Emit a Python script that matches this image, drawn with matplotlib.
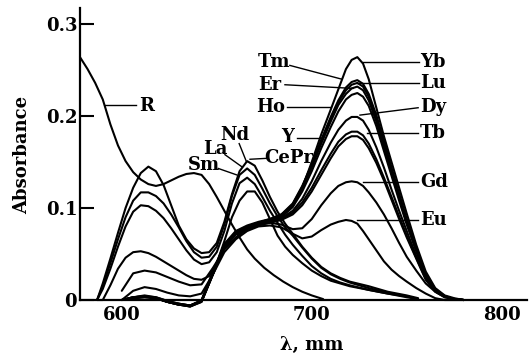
import matplotlib
matplotlib.use("Agg")
import matplotlib.pyplot as plt

plt.rcParams["font.family"] = ["DejaVu Serif"]
plt.rcParams["font.weight"] = "bold"
fontsize = 13

# reagent R
r_nm = [578, 582, 586, 590, 594, 598, 602, 606, 610, 614, 618, 622, 626, 630,
        634, 638, 642, 646, 650, 654, 658, 662, 666, 670, 675, 680, 685, 690,
        695, 700, 706]
r_abs = [0.264, 0.251, 0.236, 0.218, 0.191, 0.168, 0.151, 0.139, 0.131, 0.126,
         0.124, 0.126, 0.130, 0.134, 0.137, 0.138, 0.136, 0.126, 0.112, 0.097,
         0.082, 0.068, 0.055, 0.045, 0.035, 0.027, 0.020, 0.014, 0.009, 0.005,
         0.001]

# light lanthanides
light_nm = [587, 590, 594, 598, 602, 606, 610, 614, 618, 622, 626, 630, 634,
            638, 642, 646, 650, 654, 658, 662, 666, 670, 674, 678, 682, 686,
            690, 695, 700, 705, 710, 715, 720, 730, 740, 750, 756]
nd = [0.000, 0.018, 0.045, 0.073, 0.100, 0.122, 0.138, 0.145, 0.140, 0.125,
      0.103, 0.081, 0.066, 0.056, 0.051, 0.052, 0.062, 0.085, 0.115, 0.140,
      0.151, 0.146, 0.130, 0.112, 0.096, 0.083, 0.072, 0.058, 0.046, 0.036,
      0.029, 0.024, 0.020, 0.015, 0.009, 0.005, 0.002]
la = [0.000, 0.015, 0.040, 0.066, 0.090, 0.108, 0.117, 0.117, 0.113, 0.105,
      0.093, 0.079, 0.064, 0.052, 0.046, 0.047, 0.058, 0.082, 0.113, 0.136,
      0.143, 0.136, 0.121, 0.105, 0.091, 0.079, 0.070, 0.057, 0.045, 0.035,
      0.028, 0.023, 0.019, 0.013, 0.008, 0.004, 0.001]
sm = [0.000, 0.012, 0.034, 0.058, 0.080, 0.096, 0.103, 0.102, 0.097, 0.089,
      0.078, 0.066, 0.054, 0.044, 0.039, 0.041, 0.052, 0.075, 0.105, 0.127,
      0.133, 0.126, 0.112, 0.097, 0.084, 0.071, 0.060, 0.048, 0.037, 0.029,
      0.023, 0.019, 0.016, 0.011, 0.007, 0.003, 0.001]
cepr = [0.000, 0.000, 0.016, 0.034, 0.046, 0.052, 0.053, 0.051, 0.047, 0.042,
        0.037, 0.032, 0.027, 0.023, 0.022, 0.026, 0.040, 0.064, 0.090, 0.108,
        0.118, 0.118, 0.106, 0.088, 0.070, 0.058, 0.049, 0.040, 0.032, 0.026,
        0.021, 0.018, 0.015, 0.011, 0.007, 0.004, 0.001]

# heavy lanthanides + Y
heavy_nm = [600, 606, 612, 618, 624, 630, 636, 642, 648, 654, 660, 666, 672,
            678, 684, 690, 695, 700, 705, 710, 714, 718, 721, 724, 727, 730,
            734, 738, 742, 746, 750, 755, 760, 765, 770, 775, 780]
yb = [0.000, 0.003, 0.004, 0.002, -0.002, -0.005, -0.007, -0.002, 0.028, 0.058,
      0.072, 0.079, 0.084, 0.088, 0.093, 0.102, 0.122, 0.150, 0.180, 0.207,
      0.229, 0.251, 0.261, 0.264, 0.257, 0.240, 0.209, 0.178, 0.150, 0.122,
      0.094, 0.060, 0.031, 0.013, 0.005, 0.002, 0.000]
lu = [0.000, 0.002, 0.004, 0.003, -0.001, -0.004, -0.006, -0.001, 0.030, 0.060,
      0.074, 0.080, 0.084, 0.087, 0.092, 0.104, 0.123, 0.147, 0.174, 0.199,
      0.217, 0.231, 0.237, 0.239, 0.235, 0.224, 0.201, 0.173, 0.144, 0.116,
      0.088, 0.056, 0.028, 0.012, 0.004, 0.001, 0.000]
tm = [0.000, 0.003, 0.005, 0.003, -0.001, -0.004, -0.006, 0.000, 0.031, 0.061,
      0.075, 0.081, 0.085, 0.088, 0.093, 0.105, 0.124, 0.147, 0.173, 0.197,
      0.215, 0.228, 0.234, 0.236, 0.232, 0.221, 0.197, 0.169, 0.141, 0.113,
      0.086, 0.055, 0.027, 0.011, 0.004, 0.001, 0.000]
er = [0.000, 0.002, 0.003, 0.002, -0.002, -0.005, -0.006, -0.001, 0.029, 0.059,
      0.073, 0.080, 0.084, 0.087, 0.092, 0.104, 0.121, 0.144, 0.170, 0.194,
      0.212, 0.224, 0.230, 0.232, 0.228, 0.217, 0.194, 0.166, 0.139, 0.111,
      0.084, 0.054, 0.027, 0.011, 0.004, 0.001, 0.000]
ho = [0.000, 0.003, 0.004, 0.002, -0.002, -0.005, -0.007, -0.002, 0.028, 0.058,
      0.073, 0.079, 0.083, 0.086, 0.090, 0.101, 0.118, 0.140, 0.165, 0.188,
      0.205, 0.218, 0.223, 0.225, 0.221, 0.211, 0.189, 0.162, 0.135, 0.108,
      0.082, 0.053, 0.026, 0.011, 0.004, 0.001, 0.000]
dy = [0.000, 0.002, 0.004, 0.002, -0.002, -0.004, -0.006, -0.001, 0.029, 0.059,
      0.073, 0.079, 0.083, 0.086, 0.089, 0.097, 0.110, 0.129, 0.151, 0.171,
      0.185, 0.195, 0.199, 0.199, 0.195, 0.185, 0.166, 0.144, 0.120, 0.097,
      0.075, 0.048, 0.024, 0.010, 0.004, 0.001, 0.000]
tb = [0.000, 0.002, 0.003, 0.002, -0.002, -0.005, -0.006, -0.001, 0.029, 0.058,
      0.072, 0.078, 0.082, 0.085, 0.088, 0.095, 0.106, 0.122, 0.141, 0.159,
      0.172, 0.180, 0.183, 0.183, 0.179, 0.170, 0.153, 0.133, 0.112, 0.091,
      0.070, 0.046, 0.023, 0.010, 0.004, 0.001, 0.000]
y_ = [0.000, 0.003, 0.004, 0.002, -0.002, -0.005, -0.007, -0.001, 0.028, 0.057,
      0.071, 0.077, 0.081, 0.084, 0.087, 0.093, 0.103, 0.118, 0.136, 0.154,
      0.167, 0.175, 0.178, 0.178, 0.174, 0.165, 0.149, 0.130, 0.109, 0.088,
      0.068, 0.045, 0.022, 0.009, 0.003, 0.001, 0.000]
gd = [0.010, 0.029, 0.032, 0.030, 0.025, 0.020, 0.016, 0.017, 0.035, 0.055,
      0.068, 0.077, 0.082, 0.084, 0.082, 0.077, 0.078, 0.088, 0.103, 0.116,
      0.124, 0.128, 0.129, 0.128, 0.124, 0.117, 0.106, 0.093, 0.078, 0.062,
      0.047, 0.032, 0.018, 0.009, 0.003, 0.001, 0.000]
eu = [0.000, 0.010, 0.014, 0.012, 0.008, 0.005, 0.004, 0.007, 0.028, 0.052,
      0.066, 0.075, 0.080, 0.081, 0.079, 0.072, 0.067, 0.069, 0.076, 0.082,
      0.085, 0.087, 0.086, 0.083, 0.075, 0.066, 0.054, 0.042, 0.033, 0.026,
      0.020, 0.013, 0.007, 0.002, 0.000, 0.000, 0.000]

series = [(r_nm, r_abs)]
series += [(light_nm, s) for s in (nd, la, sm, cepr)]
series += [(heavy_nm, s) for s in (yb, lu, tm, er, ho, dy, tb, y_, gd, eu)]

# label text, anchor position, alignment, leader line
labels = [
    ("R", 613.3, 0.211, "center", (591.0, 0.212), (607.6, 0.212)),
    ("Nd", 659.4, 0.179, "center", (661.8, 0.170), (665.7, 0.150)),
    ("La", 649.1, 0.164, "center", (654.3, 0.158), (663.1, 0.145)),
    ("Sm", 643.5, 0.147, "center", (650.8, 0.143), (660.5, 0.136)),
    ("CePr", 688.0, 0.154, "center", (667.5, 0.153), (676.3, 0.154)),
    ("Tm", 680.1, 0.259, "center", (688.5, 0.255), (715.9, 0.240)),
    ("Er", 678.0, 0.234, "center", (685.9, 0.234), (721.7, 0.230)),
    ("Ho", 678.5, 0.210, "center", (687.0, 0.210), (709.6, 0.210)),
    ("Y", 687.2, 0.177, "center", (692.2, 0.176), (705.4, 0.176)),
    ("Yb", 757.0, 0.259, "left", (727.0, 0.259), (756.4, 0.259)),
    ("Lu", 757.0, 0.236, "left", (723.8, 0.236), (756.4, 0.236)),
    ("Dy", 757.0, 0.210, "left", (725.4, 0.201), (756.0, 0.209)),
    ("Tb", 757.0, 0.181, "left", (728.9, 0.181), (756.0, 0.181)),
    ("Gd", 757.0, 0.128, "left", (727.0, 0.128), (756.0, 0.128)),
    ("Eu", 757.0, 0.087, "left", (723.8, 0.087), (756.0, 0.087)),
]

fig = plt.figure(figsize=(5.3, 3.53), dpi=100)
ax = fig.add_axes([0.1509, 0.1501, 0.8434, 0.8272])

for x, y in series:
    ax.plot(x, y, color="black", linewidth=1.5, clip_on=False,
            solid_capstyle="round", solid_joinstyle="round")

for text, tx, ty, ha, p0, p1 in labels:
    ax.plot([p0[0], p1[0]], [p0[1], p1[1]], color="black", linewidth=1.0)
    ax.text(tx, ty, text, ha=ha, va="center", fontsize=fontsize,
            fontweight="bold")

ax.set_xlim(578, 813.3)
ax.set_ylim(0, 0.3174)

ax.spines["top"].set_visible(False)
ax.spines["right"].set_visible(False)
ax.spines["left"].set_linewidth(1.6)
ax.spines["bottom"].set_linewidth(1.6)

ax.set_xticks([600, 700, 800])
ax.set_xticklabels(["600", "700", "800"])
ax.set_xticks([800], minor=True)
ax.set_yticks([0, 0.1, 0.2, 0.3])
ax.set_yticklabels(["0", "0.1", "0.2", "0.3"])

ax.tick_params(axis="x", which="major", length=0, pad=4,
               labelsize=fontsize)
ax.tick_params(axis="x", which="minor", direction="in", length=8.5,
               width=1.5)
ax.tick_params(axis="y", direction="in", length=10, width=1.5, pad=2,
               labelsize=fontsize)

fig.text(22 / 530, 1 - 155 / 353, "Absorbance", rotation=90,
         ha="center", va="center", fontsize=fontsize, fontweight="bold")
fig.text(312 / 530, 1 - 345 / 353, "λ, mm", ha="center", va="center",
         fontsize=fontsize, fontweight="bold")

fig.savefig("out.png", dpi=100)
